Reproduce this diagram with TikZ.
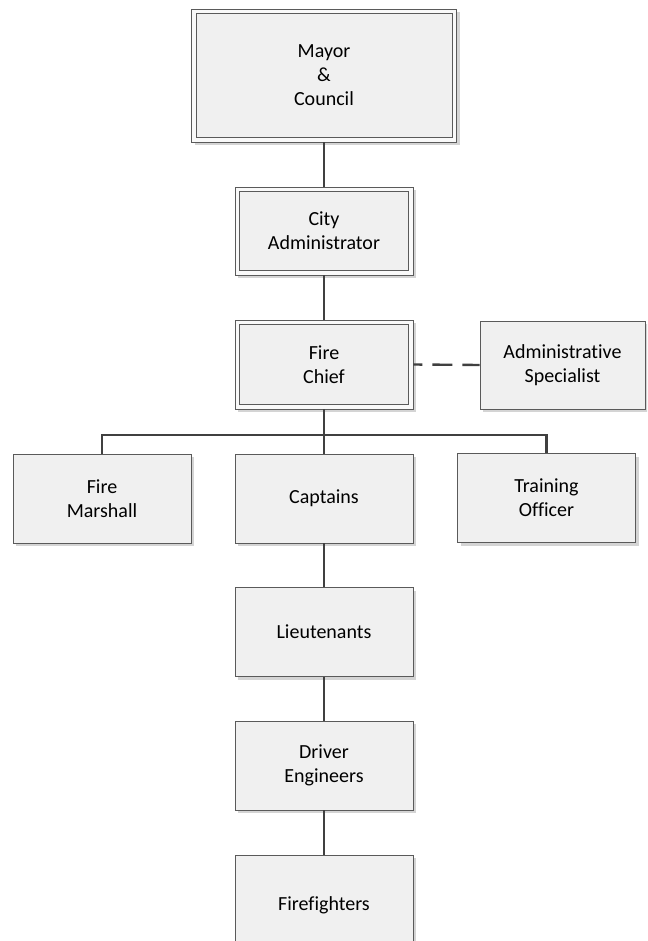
\documentclass[tikz,border=0pt]{standalone}
\usepackage{fontspec}
\setmainfont{Carlito}[Ligatures=NoCommon]
\usetikzlibrary{shadows}
\definecolor{boxfill}{HTML}{F0F0F0}
\definecolor{boxline}{HTML}{5A5A5A}
\definecolor{connline}{HTML}{404040}
\definecolor{shade}{HTML}{D4D4D4}
\tikzset{
  unit/.style={rectangle, draw=boxline, line width=0.9pt, fill=boxfill,
    minimum width=178pt, minimum height=89pt, align=center, inner sep=0pt,
    font=\fontsize{20}{24}\selectfont,
    drop shadow={shadow xshift=3pt, shadow yshift=-3pt, fill=shade, opacity=1}},
  % a second, inner frame for the senior posts
  headunit/.style={unit, fill=white!60!boxfill,
    path picture={\draw[boxline, line width=0.9pt, fill=boxfill]
      ([shift={(4.5pt,-4.5pt)}]path picture bounding box.north west) rectangle
      ([shift={(-4.5pt,4.5pt)}]path picture bounding box.south east);}},
  conn/.style={draw=connline, line width=2.4pt},
  staffconn/.style={conn, dash pattern=on 20pt off 10pt, dash phase=11pt}
}
\begin{document}
\begin{tikzpicture}[x=1pt, y=-1pt]
  \useasboundingbox (0,0) rectangle (647,941);
  \clip (0,0) rectangle (647,941);
  \fill[white] (0,0) rectangle (647,941);

  % chain of command
  \node[headunit, minimum width=265pt, minimum height=133pt] (mayor) at (324,75.5) {Mayor\\\&\\Council};
  \node[headunit, minimum width=178pt, minimum height=88pt] (city) at (324,231) {City\\Administrator};
  \node[headunit, minimum width=178pt, minimum height=89pt] (chief) at (324,364.5) {Fire\\Chief};
  \node[unit, minimum width=165pt, minimum height=88pt] (spec) at (562.5,365) {Administrative\\Specialist};

  \node[unit] (marshall) at (102,498.5) {Fire\\Marshall};
  \node[unit] (captains) at (324,498.5) {Captains};
  \node[unit] (training) at (546.5,498) {Training\\Officer};
  \node[unit] (lieut) at (324,632) {Lieutenants};
  \node[unit] (driver) at (324,765.5) {Driver\\Engineers};
  \node[unit, minimum height=100pt] (ff) at (324,905) {Firefighters};

  \coordinate (bus) at (324,435);

  % connectors
  \draw[conn] (mayor.south) -- (city.north);
  \draw[conn] (city.south) -- (chief.north);
  \draw[staffconn] (chief.east) -- (spec.west);
  \draw[conn] (chief.south) -- (bus);
  \draw[conn] (marshall.north) |- (bus) -| (training.north);
  \draw[conn] (bus) -- (captains.north);
  \draw[conn] (captains.south) -- (lieut.north);
  \draw[conn] (lieut.south) -- (driver.north);
  \draw[conn] (driver.south) -- (ff.north);
\end{tikzpicture}
\end{document}
